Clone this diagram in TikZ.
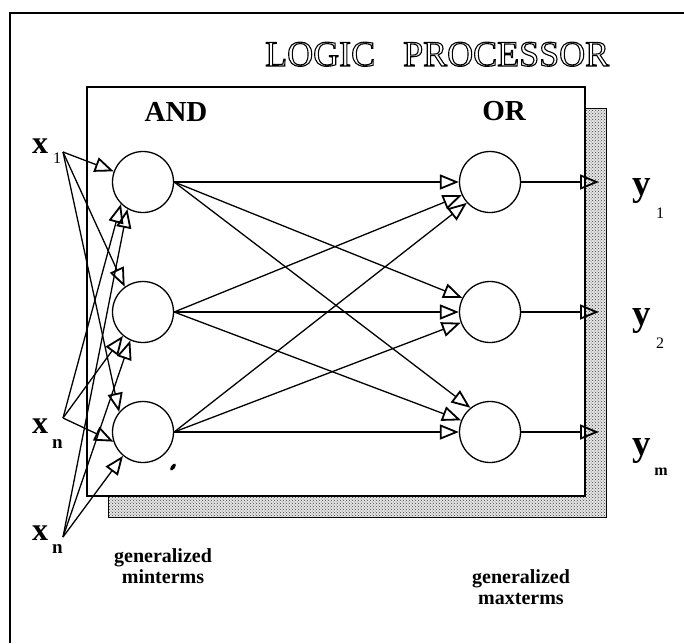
\documentclass[tikz,border=0pt]{standalone}
\usepackage{fontspec}
\setmainfont{Liberation Serif}
\usetikzlibrary{arrows.meta,patterns}
\newcommand{\outlinetext}[1]{\special{pdf:literal direct 1 Tr 1.1 w}#1\special{pdf:literal direct 0 Tr}}
\begin{document}
\begin{tikzpicture}[x=1pt,y=-1pt,
  conn/.style={line width=1.3pt, -{Triangle[open,length=19pt,width=15pt,line width=1.8pt]}},
  gate/.style={circle, draw, line width=1.3pt, minimum size=61pt, inner sep=0pt, fill=white},
  lbl/.style={inner sep=0pt, anchor=base},
  lblw/.style={inner sep=0pt, anchor=base west},
  big/.style={font=\bfseries\fontsize{29}{31}\selectfont},
  var/.style={font=\bfseries\fontsize{32}{34}\selectfont},
  yvar/.style={font=\bfseries\fontsize{37}{38}\selectfont},
  sub/.style={font=\fontsize{16}{16}\selectfont},
  subb/.style={font=\bfseries\fontsize{19}{19}\selectfont},
  note/.style={align=center, inner sep=0pt, font=\bfseries\fontsize{20}{21}\selectfont}
 ]
\useasboundingbox (0,0) rectangle (684,643);
% outer frame
\draw[line width=1.6pt] (684,13) -- (10,13) -- (10,643);
% title
\node[lblw, font=\fontsize{36}{40}\selectfont] (title) at (265,66)
  {\outlinetext{LOGIC\hspace{28pt}PROCESSOR}};
% shadow and box
\draw[line width=1pt, fill=gray!20, postaction={pattern=crosshatch dots, pattern color=black!75}] (108,108) rectangle (606,517);
\draw[line width=1.3pt, fill=white] (87,87) rectangle (585,496);
% labels
\node[lbl, big] (andl) at (176,121) {AND};
\node[lbl, big] (orl) at (504,120) {OR};
% gates
\node[gate] (a1) at (143,182) {};
\node[gate] (a2) at (143,312) {};
\node[gate] (a3) at (143,432) {};
\node[gate] (o1) at (490,182) {};
\node[gate] (o2) at (490,312) {};
\node[gate] (o3) at (490,432) {};
% inputs
\node[lblw, var] (x1) at (32,153) {x};
\node[lblw, sub] (x1s) at (53,163) {1};
\node[lblw, var] (xm) at (32,433) {x};
\node[lblw, subb] (xms) at (52,448) {n};
\node[lblw, var] (xb) at (32,540) {x};
\node[lblw, subb] (xbs) at (52,553) {n};
\coordinate (in1) at (63,152);
\coordinate (inm) at (63,418);
\coordinate (inb) at (63,537);
\draw[conn] (in1) -- (a1.160);
\draw[conn] (in1) -- (a2.126);
\draw[conn] (in1) -- (a3.140);
\draw[conn] (inm) -- (a1.225);
\draw[conn] (inm) -- (a2.230);
\draw[conn] (inm) -- (a3.198);
\draw[conn] (inb) -- (a1.240);
\draw[conn] (inb) -- (a2.246);
\draw[conn] (inb) -- (a3.230);
% AND -> OR
\draw[conn] (a1.east) -- (o1.180);
\draw[conn] (a1.east) -- (o2.153);
\draw[conn] (a1.east) -- (o3.129);
\draw[conn] (a2.east) -- (o1.205);
\draw[conn] (a2.east) -- (o2.180);
\draw[conn] (a2.east) -- (o3.158);
\draw[conn] (a3.east) -- (o1.222);
\draw[conn] (a3.east) -- (o2.200);
\draw[conn] (a3.east) -- (o3.180);
% outputs
\coordinate (e1) at (599,182);
\coordinate (e2) at (599,312);
\coordinate (e3) at (599,432);
\draw[conn] (o1.east) -- (e1);
\draw[conn] (o2.east) -- (e2);
\draw[conn] (o3.east) -- (e3);
\node[lblw, yvar] (y1) at (632,195) {y};
\node[lbl, sub] (y1s) at (660,218) {1};
\node[lblw, yvar] (y2) at (632,325) {y};
\node[lbl, sub] (y2s) at (660,348) {2};
\node[lblw, yvar] (y3) at (632,455) {y};
\node[lbl, font=\bfseries\fontsize{16}{16}\selectfont] (y3s) at (661,475) {m};
% speck
\fill[rotate around={-35:(173,467)}] (173,467) ellipse [x radius=2, y radius=4];
% notes
\node[note] (minterms) at (163,566) {generalized\\minterms};
\node[note] (maxterms) at (521,587) {generalized\\maxterms};
\end{tikzpicture}
\end{document}
